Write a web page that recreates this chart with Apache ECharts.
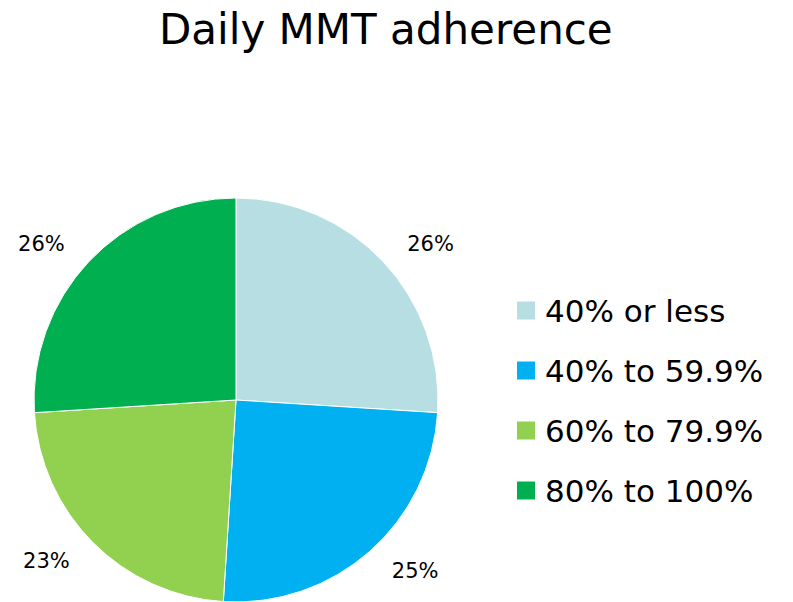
<!DOCTYPE html>
<html>
<head>
<meta charset="utf-8">
<style>
  html, body { margin: 0; padding: 0; background: #fff; }
  #chart { width: 793px; height: 602px; }
</style>
<script src="https://cdn.jsdelivr.net/npm/echarts@6/dist/echarts.min.js"></script>
</head>
<body>
<div id="chart"></div>
<script>
  // data
  var categories = ['40% or less', '40% to 59.9%', '60% to 79.9%', '80% to 100%'];
  var shares = [26, 25, 23, 26];
  var colors = ['#B7DEE3', '#00B0F0', '#92D050', '#00B050'];

  var font = '"Century Gothic", "DejaVu Sans", sans-serif';

  var chart = echarts.init(document.getElementById('chart'), null, { renderer: 'svg' });
  chart.setOption({
    animation: false,
    title: {
      text: 'Daily MMT adherence',
      left: 154,
      top: 3,
      textStyle: { fontFamily: font, fontSize: 42, fontWeight: 'normal', color: '#000' }
    },
    legend: {
      orient: 'vertical',
      left: 510,
      top: 290,
      itemWidth: 20,
      itemHeight: 20,
      itemGap: 29,
      icon: 'rect',
      textStyle: { fontFamily: font, fontSize: 31, color: '#000', padding: [0, 0, 0, 4] },
      data: categories
    },
    series: [{
      type: 'pie',
      center: [236, 400],
      radius: 202,
      startAngle: 90,
      clockwise: true,
      avoidLabelOverlap: false,
      itemStyle: { borderColor: '#fff', borderWidth: 1 },
      label: {
        show: true,
        position: 'outside',
        formatter: '{c}%',
        fontFamily: font,
        fontSize: 21,
        color: '#000'
      },
      labelLine: { show: false, length: 26, length2: 0 },
      data: categories.map(function(name, i) {
        return { name: name, value: shares[i], itemStyle: { color: colors[i] } };
      })
    }]
  });
</script>
</body>
</html>
